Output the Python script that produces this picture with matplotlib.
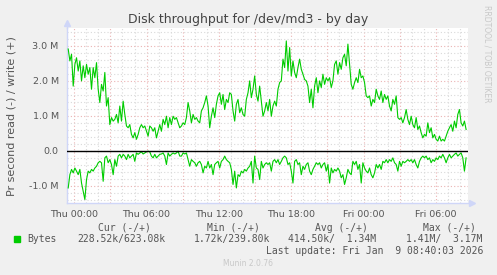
import matplotlib
matplotlib.use("Agg")
import matplotlib.pyplot as plt
import matplotlib.patches as patches
from matplotlib.ticker import FixedLocator, FuncFormatter
import numpy as np

# hours relative to Thu 00:00, span of the graph and of the samples
x_start, x_end = -0.6, 32.667
t_first, t_last = -0.5, 32.51

# write (+) in MB/s
write = [
    2.9, 2.56, 2.75, 1.84, 2.46, 2.65, 2.27, 2.56, 1.99, 2.42, 2.08, 2.46, 2.18, 2.37, 1.75, 2.37,
    2.08, 2.51, 1.75, 1.37, 1.89, 1.70, 2.23, 1.27, 1.51, 0.74, 0.94, 0.84, 0.89, 1.03, 0.79, 1.27,
    0.84, 1.41, 1.03, 0.70, 0.65, 0.74, 0.46, 0.36, 0.51, 0.32, 0.46, 0.65, 0.74, 0.65, 0.70, 0.55,
    0.41, 0.70, 0.65, 0.55, 0.65, 0.36, 0.55, 0.74, 0.55, 0.89, 0.74, 0.98, 0.65,
    0.94, 0.74, 0.98, 0.89, 0.94, 0.79, 0.65, 0.70, 0.79, 0.74, 0.94, 1.37, 1.13, 0.79, 1.03, 0.89,
    0.94, 0.84, 0.79, 1.13, 1.22, 1.37, 1.56, 1.27, 0.65, 0.98, 1.22, 0.94, 1.32, 1.56, 1.65, 1.32,
    1.60, 1.17, 1.46, 1.37, 1.65, 1.60, 1.13, 0.84, 1.32, 1.46, 1.08, 1.22, 1.03, 0.98, 1.46, 1.65,
    1.99, 1.51, 1.75, 2.13, 1.60, 1.41, 1.84, 1.41, 0.98, 1.13, 1.37, 1.13,
    1.46, 0.98, 1.27, 1.41, 1.27, 1.75, 1.94, 1.99, 2.61, 2.37, 3.13, 2.27, 2.94, 2.13, 2.56, 2.23,
    2.08, 2.37, 2.61, 2.32, 2.18, 2.03, 1.99, 1.84, 1.37, 1.75, 1.22, 1.84, 2.08, 1.65, 1.99, 1.80,
    2.18, 1.89, 2.08, 1.99, 2.08, 1.80, 1.99, 2.46, 2.56, 2.18, 2.51, 2.32, 2.65, 2.75, 2.42, 3.04,
    2.46, 1.89, 1.75, 1.94, 2.08, 1.94, 2.32, 2.08, 2.13, 1.94, 1.56, 1.51,
    1.56, 1.27, 1.46, 1.37, 1.75, 1.56, 1.46, 1.70, 1.37, 1.60, 1.46, 1.56, 1.27, 1.13, 1.46, 1.32,
    1.56, 0.94, 0.89, 0.94, 0.79, 0.94, 1.17, 0.89, 0.74, 0.98, 0.74, 0.65, 0.94, 0.60, 0.70, 0.51,
    0.36, 0.46, 0.41, 0.79, 0.51, 0.65, 0.36, 0.46, 0.32, 0.27, 0.41, 0.27, 0.32, 0.27, 0.41, 0.55,
    0.65, 0.74, 0.55, 0.84, 0.65, 1.03, 1.17, 0.79, 0.70, 0.84, 0.60,
]

# read (-) in MB/s, drawn below zero
read = [
    -1.07, -0.69, -0.54, -0.64, -0.50, -0.59, -0.69, -0.54, -0.93, -1.17, -1.40, -0.83, -0.59, -0.64,
    -0.54, -0.59, -0.50, -0.45, -0.35, -0.31, -0.35, -0.88, -0.21, -0.16, -0.35, -0.26, -0.40, -0.69,
    -0.26, -0.45, -0.16, -0.11, -0.21, -0.11, -0.16, -0.26, -0.11, -0.21, -0.16, -0.11, -0.31, -0.07,
    -0.11, -0.07, -0.04, -0.10, -0.07, -0.04, -0.02, -0.04, -0.16, -0.21, -0.11, -0.21, -0.16, -0.11,
    -0.10, -0.07, -0.16, -0.40, -0.07,
    -0.16, -0.11, -0.07, -0.10, -0.07, -0.02, -0.16, -0.16, -0.07, -0.10, -0.07, -0.26, -0.45, -0.26,
    -0.31, -0.35, -0.45, -0.35, -0.31, -0.40, -0.64, -0.45, -0.50, -0.31, -0.50, -0.40, -0.69, -0.40,
    -0.35, -0.31, -0.50, -0.31, -0.26, -0.16, -0.26, -0.31, -0.35, -0.54, -0.97, -0.59, -1.07, -0.69,
    -0.74, -0.59, -0.64, -0.54, -0.59, -0.50, -0.45, -0.31, -0.93, -0.16, -0.50, -0.54, -0.83, -0.31,
    -0.50, -0.40, -0.35, -0.40,
    -0.35, -0.59, -0.31, -0.26, -0.35, -0.26, -0.40, -0.31, -0.21, -0.16, -0.21, -0.40, -0.35, -0.59,
    -0.93, -0.31, -0.26, -0.40, -0.35, -0.69, -0.45, -0.54, -0.40, -0.35, -0.59, -0.69, -0.54, -0.45,
    -0.35, -0.40, -0.35, -0.50, -0.40, -0.35, -0.59, -0.40, -0.93, -0.50, -0.64, -0.54, -0.59, -0.50,
    -0.59, -0.78, -0.69, -0.97, -0.78, -0.54, -0.64, -0.69, -0.31, -0.40, -0.31, -0.54, -0.40, -0.93,
    -0.35, -0.50, -0.59, -0.64,
    -0.50, -0.69, -0.78, -0.64, -0.40, -0.50, -0.40, -0.54, -0.31, -0.35, -0.26, -0.35, -0.26, -0.31,
    -0.21, -0.35, -0.40, -0.59, -0.31, -0.45, -0.31, -0.35, -0.31, -0.26, -0.31, -0.26, -0.35, -0.26,
    -0.40, -0.50, -0.31, -0.21, -0.16, -0.21, -0.16, -0.26, -0.21, -0.35, -0.26, -0.31, -0.21, -0.26,
    -0.16, -0.21, -0.11, -0.21, -0.35, -0.21, -0.11, -0.21, -0.16, -0.11, -0.07, -0.16, -0.11, -0.07,
    -0.21, -0.59, -0.21,
]

label_hours = [0, 6, 12, 18, 24, 30]
label_names = ["Thu 00:00", "Thu 06:00", "Thu 12:00", "Thu 18:00", "Fri 00:00", "Fri 06:00"]

legend_head = ["Cur (-/+)", "Min (-/+)", "Avg (-/+)", "Max (-/+)"]
legend_vals = ["228.52k/623.08k", "1.72k/239.80k", "414.50k/  1.34M", "1.41M/  3.17M"]

GREEN = "#00CC00"
FONT = "#555555"
AXIS = "#CFD6F8"
GRID = "#D9D9D9"
MGRID = "#EBB3B3"

W, H = 497, 275
fig = plt.figure(figsize=(W / 100, H / 100), dpi=100, facecolor="#F0F0F0")
ax = fig.add_axes([67 / W, (H - 203) / H, 401 / W, 175 / H])
ax.set_facecolor("white")

# grid: 1h / 0.2M dotted grey, 3h / 1M dotted red
for h in range(0, 33):
    ax.axvline(h, color=MGRID if h % 3 == 0 else GRID, lw=0.8, ls=(0, (1, 2)), zorder=1)
for v in np.arange(-1.4, 3.45, 0.2):
    major = abs(v - round(v)) < 1e-6
    ax.axhline(v, color=MGRID if major else GRID, lw=0.8, ls=(0, (1, 2)), zorder=1)

t_w = np.linspace(t_first, t_last, len(write))
t_r = np.linspace(t_first, t_last, len(read))
ax.plot(t_w, write, color=GREEN, lw=0.8, zorder=3)
ax.plot(t_r, read, color=GREEN, lw=0.8, zorder=3)
ax.axhline(0, color="black", lw=1.0, zorder=4)

ax.set_xlim(x_start, x_end)
ax.set_ylim(-1.5, 3.5)

ax.xaxis.set_major_locator(FixedLocator(label_hours))
ax.set_xticklabels(label_names)
ax.yaxis.set_major_locator(FixedLocator([-1, 0, 1, 2, 3]))
ax.yaxis.set_major_formatter(FuncFormatter(lambda v, p: "0.0" if v == 0 else f"{v:.1f} M"))
ax.tick_params(length=0, labelsize=6.8, colors=FONT)
ax.tick_params(axis="x", pad=5)
ax.tick_params(axis="y", pad=6)

for s in ["top", "right"]:
    ax.spines[s].set_visible(False)
for s in ["left", "bottom"]:
    ax.spines[s].set_color(AXIS)
    ax.spines[s].set_linewidth(1.0)
ax.plot([0], [1.03], marker="^", color=AXIS, ms=5, transform=ax.transAxes, clip_on=False)
ax.plot([1.01], [0], marker=">", color=AXIS, ms=5, transform=ax.transAxes, clip_on=False)
ax.plot([0, 0], [1.0, 1.03], color=AXIS, lw=1, transform=ax.transAxes, clip_on=False)

fig.text(W / 2 / W, 1 - 19 / H, "Disk throughput for /dev/md3 - by day",
         ha="center", va="center", fontsize=9, color="#444444")
fig.text(12 / W, 1 - 116 / H, "Pr second read (-) / write (+)", rotation=90,
         ha="center", va="center", fontsize=8, color=FONT)
fig.text(487 / W, 1 - 5 / H, "RRDTOOL / TOBI OETIKER", rotation=270,
         ha="center", va="top", fontsize=5.5, color="#C8C8C8")

mono = dict(family="DejaVu Sans Mono", fontsize=7, color=FONT, va="center")
fig.add_artist(patches.Rectangle((14 / W, 1 - 242 / H), 6 / W, 6 / H,
                                 transform=fig.transFigure, color=GREEN))
fig.text(27 / W, 1 - 239 / H, "Bytes", **mono)
head_x = [98, 207, 315, 423]
val_x = [77, 194, 288, 406]
for hx, txt in zip(head_x, legend_head):
    fig.text(hx / W, 1 - 228 / H, txt, **mono)
for vx, txt in zip(val_x, legend_vals):
    fig.text(vx / W, 1 - 239 / H, txt, **mono)
fig.text(483 / W, 1 - 251 / H, "Last update: Fri Jan  9 08:40:03 2026", ha="right", **mono)
fig.text(248 / W, 1 - 264 / H, "Munin 2.0.76", ha="center", va="center",
         fontsize=5.5, color="#C8C8C8")

fig.savefig("out.png", dpi=100, facecolor=fig.get_facecolor())
